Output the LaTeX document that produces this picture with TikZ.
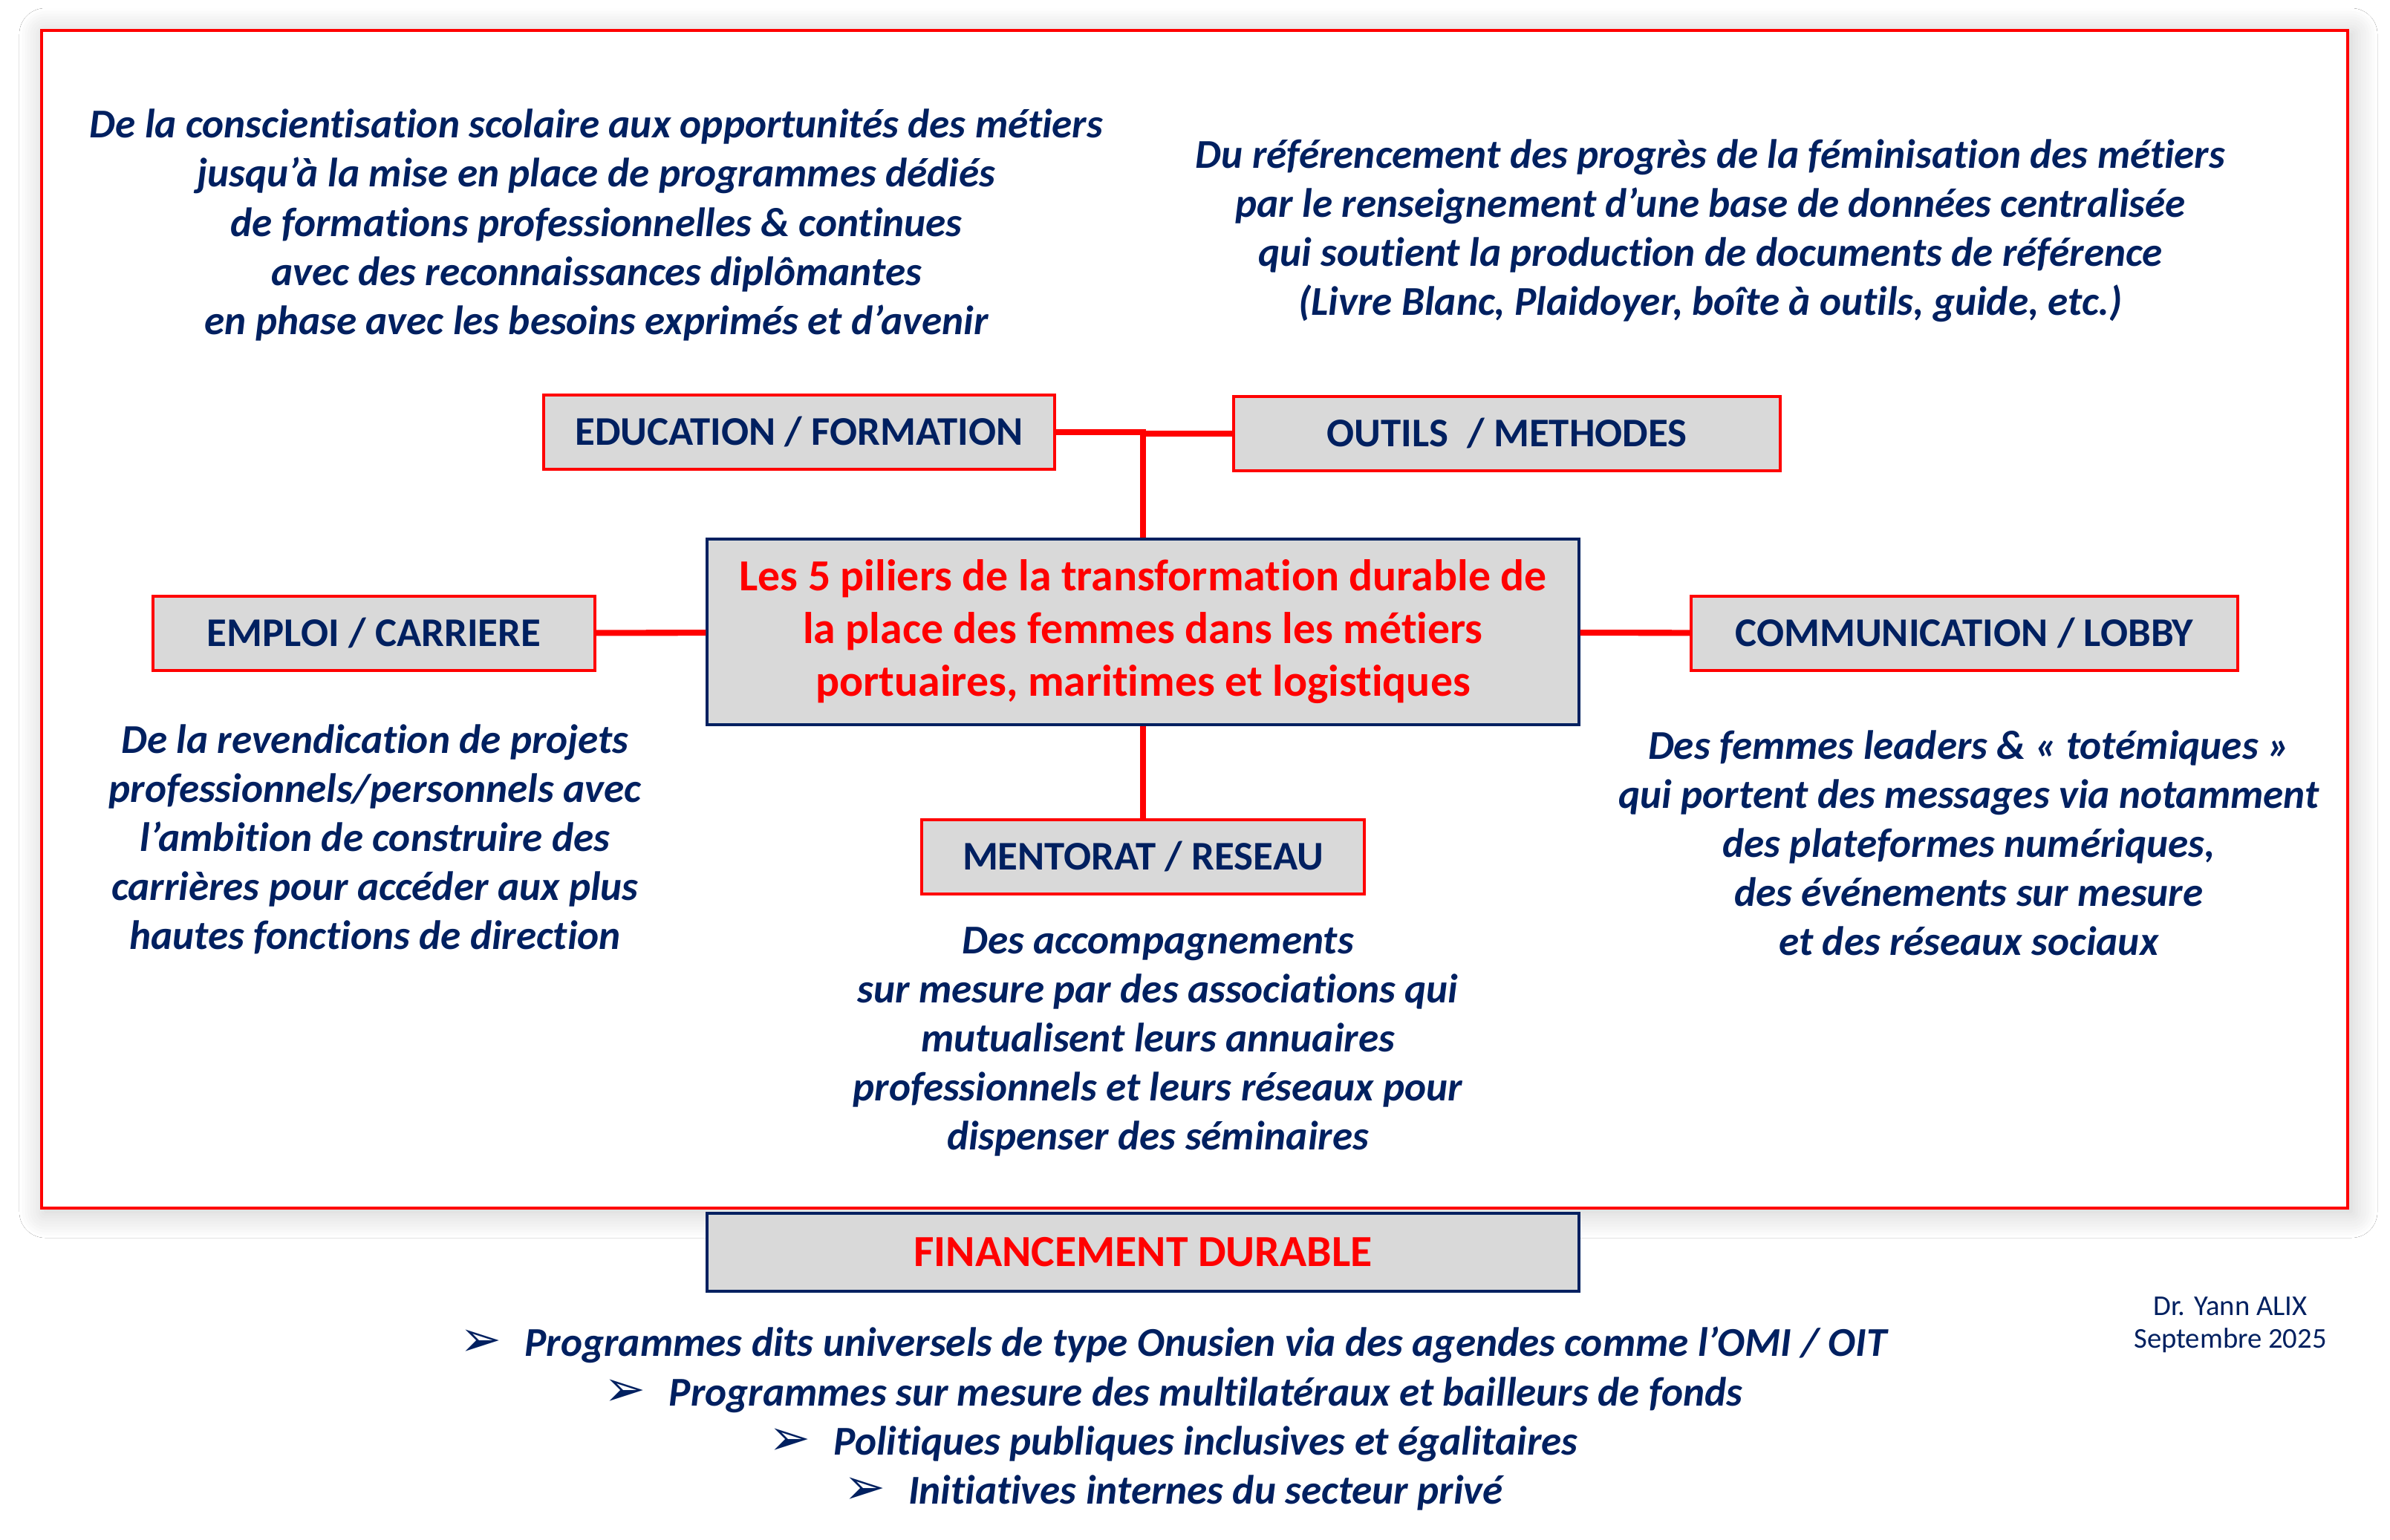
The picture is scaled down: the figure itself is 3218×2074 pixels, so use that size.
\documentclass[tikz,border=0pt]{standalone}
\usepackage{fontspec}
\setmainfont{Carlito}[Ligatures=NoCommon]
\newfontfamily\arrowfont{DejaVu Sans}
\usetikzlibrary{shadows.blur}
\definecolor{navy}{HTML}{002060}
\definecolor{alert}{HTML}{FF0000}
\definecolor{boxgrey}{HTML}{D9D9D9}
\newcommand{\bulletarrow}{{\arrowfont\mdseries\upshape\fontsize{19}{18.8}\selectfont ➢}\hspace{3.1mm}}
\tikzset{
  frame/.style={draw=alert, line width=1.3pt, fill=white,
    blur shadow={shadow xshift=0.5mm, shadow yshift=-0.5mm, shadow blur radius=3.5mm, shadow blur steps=10, shadow opacity=22}},
  pillar/.style={draw=alert, fill=boxgrey, line width=0.9pt, minimum height=10mm, inner sep=0pt, text=navy,
    font=\bfseries\fontsize{15.6}{19}\selectfont},
  core/.style={draw=navy, fill=boxgrey, line width=0.9pt, inner sep=0pt, text=alert, align=center,
    font=\bfseries\fontsize{17}{20.2}\selectfont},
  link/.style={draw=alert, line width=2.3pt},
  blurb/.style={text=navy, align=center, inner sep=0pt, font=\bfseries\itshape\fontsize{15.7}{18.8}\selectfont},
  sign/.style={text=navy, align=center, inner sep=0pt, font=\fontsize{11}{12.5}\selectfont},
}
\begin{document}
\begin{tikzpicture}[x=0.1mm, y=-0.1mm]
  \path[use as bounding box, fill=white] (0,0) rectangle (3218,2074);

  % outer frame with its soft shadow
  \draw[frame] (56,41) rectangle (3161,1627);

  % central box
  \node[core, minimum width=117.4mm, minimum height=25mm] (ctr) at (1539,851)
    {Les 5 piliers de la transformation durable de\\la place des femmes dans les métiers\\portuaires, maritimes et logistiques};

  % the five pillars
  \node[pillar, minimum width=68.8mm] (edu) at (1076,582) {EDUCATION / FORMATION};
  \node[pillar, minimum width=73.6mm] (outils) at (2029,584) {OUTILS\ \ / METHODES};
  \node[pillar, minimum width=59.5mm] (emploi) at (503.5,853) {EMPLOI / CARRIERE};
  \node[pillar, minimum width=73.6mm] (comm) at (2645,853) {COMMUNICATION / LOBBY};
  \node[pillar, minimum width=59.6mm] (mentorat) at (1539,1154) {MENTORAT / RESEAU};

  % links to the centre
  \draw[link] (edu.east) -| (ctr.north);
  \draw[link] (outils.west) -| (ctr.north);
  \draw[link] (emploi) -- (ctr);
  \draw[link] (ctr) -- (comm);
  \draw[link] (ctr.south) -- (mentorat.north);

  % descriptions
  \node[blurb] (eduTxt) at (803,303)
    {De la conscientisation scolaire aux opportunités des métiers\\jusqu’à la mise en place de programmes dédiés\\de formations professionnelles \& continues\\avec des reconnaissances diplômantes\\en phase avec les besoins exprimés et d’avenir};
  \node[blurb] (outilsTxt) at (2303,310.5)
    {Du référencement des progrès de la féminisation des métiers\\par le renseignement d’une base de données centralisée\\qui soutient la production de documents de référence\\(Livre Blanc, Plaidoyer, boîte à outils, guide, etc.)};
  \node[blurb] (emploiTxt) at (505,1130)
    {De la revendication de projets\\professionnels/personnels avec\\l’ambition de construire des\\carrières pour accéder aux plus\\hautes fonctions de direction};
  \node[blurb] (commTxt) at (2651,1135)
    {Des femmes leaders \& « totémiques »\\qui portent des messages via notamment\\des plateformes numériques,\\des événements sur mesure\\et des réseaux sociaux};
  \node[blurb] (mentoratTxt) at (1559,1403)
    {Des accompagnements\\sur mesure par des associations qui\\mutualisent leurs annuaires\\professionnels et leurs réseaux pour\\dispenser des séminaires};

  % funding
  \node[core, minimum width=117.4mm, minimum height=10.5mm] (fin) at (1539,1686.5) {FINANCEMENT DURABLE};
  \node[blurb] (finTxt) at (1580,1910.5)
    {\bulletarrow Programmes dits universels de type Onusien via des agendes comme l’OMI / OIT\\
     \bulletarrow Programmes sur mesure des multilatéraux et bailleurs de fonds\\
     \bulletarrow Politiques publiques inclusives et égalitaires\\
     \bulletarrow Initiatives internes du secteur privé};

  \node[sign] (sign) at (3003,1784) {Dr. Yann ALIX\\Septembre 2025};
\end{tikzpicture}
\end{document}
